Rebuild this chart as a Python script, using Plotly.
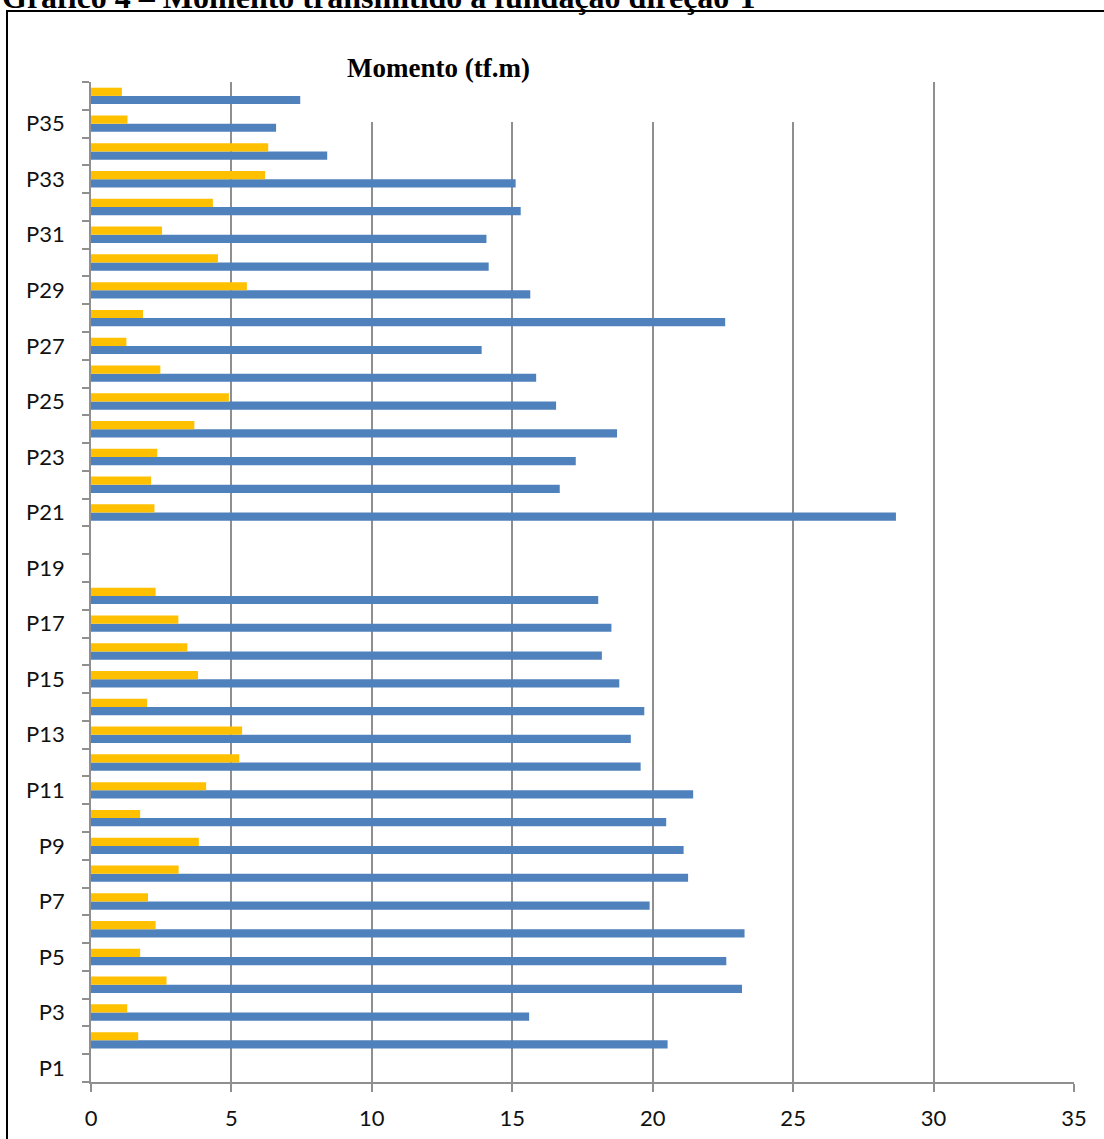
import plotly.graph_objects as go

# Pilares P1..P36
pilares = [f"P{i}" for i in range(1, 37)]

# Momento (tf.m) por pilar — série azul e série amarela
momento_azul = [None, 20.53, 15.60, 23.18, 22.62, 23.27, 19.89, 21.26, 21.10, 20.48,
                21.44, 19.57, 19.22, 19.70, 18.81, 18.19, 18.53, 18.06, None, None,
                28.66, 16.69, 17.26, 18.73, 16.56, 15.85, 13.91, 22.58, 15.64, 14.16,
                14.08, 15.30, 15.12, 8.41, 6.59, 7.45]
momento_amarelo = [None, 1.68, 1.29, 2.69, 1.75, 2.30, 2.03, 3.12, 3.84, 1.75,
                   4.10, 5.28, 5.38, 2.00, 3.81, 3.43, 3.11, 2.30, None, None,
                   2.26, 2.14, 2.36, 3.68, 4.91, 2.47, 1.26, 1.85, 5.55, 4.52,
                   2.53, 4.34, 6.20, 6.31, 1.30, 1.10]

x_ticks = [0, 5, 10, 15, 20, 25, 30, 35]

posicao = list(range(1, len(pilares) + 1))
rotulos_vals = posicao[::2]
rotulos_txt = pilares[::2]

W, H = 1104, 1139
L, R, T, B = 91, 30, 82, 57
PW, PH = W - L - R, H - T - B


def px(xp):
    return (xp - L) / PW


def py(yp):
    return (H - B - yp) / PH


fig = go.Figure()
fig.add_trace(go.Bar(y=posicao, x=momento_azul, orientation="h",
                     marker=dict(color="#4f81bd", line=dict(width=0)),
                     showlegend=False, hoverinfo="x+y"))
fig.add_trace(go.Bar(y=posicao, x=momento_amarelo, orientation="h",
                     marker=dict(color="#ffc000", line=dict(width=0)),
                     showlegend=False, hoverinfo="x+y"))

grid = "#8f8f8f"
fig.update_layout(
    width=W, height=H,
    margin=dict(l=L, r=R, t=T, b=B, pad=0, autoexpand=False),
    paper_bgcolor="white", plot_bgcolor="white",
    barmode="group", bargap=0.41, bargroupgap=0.0,
    font=dict(family="Lato, 'Open Sans', sans-serif", size=22, color="#111111"),
    xaxis=dict(range=[0, 35], tickvals=x_ticks, ticktext=[str(v) for v in x_ticks],
               showgrid=True, gridcolor=grid, gridwidth=1.6,
               showline=True, linecolor=grid, linewidth=1.6,
               ticks="outside", ticklen=8, tickcolor=grid, tickwidth=1.6,
               ticklabelstandoff=8, zeroline=False, fixedrange=True,
               automargin=False),
    yaxis=dict(range=[0.5, 36.5], tickvals=rotulos_vals, ticktext=rotulos_txt,
               showgrid=False, showline=True, linecolor=grid, linewidth=1.6,
               ticks="", ticklabelstandoff=20, zeroline=False,
               minor=dict(tick0=0.5, dtick=1, ticks="outside", ticklen=7,
                          tickcolor=grid, tickwidth=1.6, showgrid=False),
               fixedrange=True, automargin=False),
    shapes=[
        # caixa do título do gráfico, sobre as linhas de grade
        dict(type="rect", xref="paper", yref="paper", layer="above",
             x0=px(306), x1=px(862), y0=py(122), y1=py(40),
             fillcolor="white", line=dict(width=0)),
        # moldura
        dict(type="rect", xref="paper", yref="paper", layer="above",
             x0=px(7), x1=px(1112), y0=py(1150), y1=py(11),
             fillcolor="rgba(0,0,0,0)", line=dict(color="black", width=2)),
    ],
    annotations=[
        dict(text="<b>Momento (tf.m)</b>", xref="paper", yref="paper",
             x=px(438), y=py(68), xanchor="center", yanchor="middle",
             showarrow=False,
             font=dict(family="'Liberation Serif', 'Times New Roman', serif",
                       size=27, color="black")),
        dict(text="<b>Gráfico 4 – Momento transmitido à fundação direção Y</b>",
             xref="paper", yref="paper", x=px(0), y=py(17),
             xanchor="left", yanchor="bottom", showarrow=False,
             font=dict(family="'Liberation Serif', 'Times New Roman', serif",
                       size=32, color="black")),
    ],
)

fig.write_html("out.html")
